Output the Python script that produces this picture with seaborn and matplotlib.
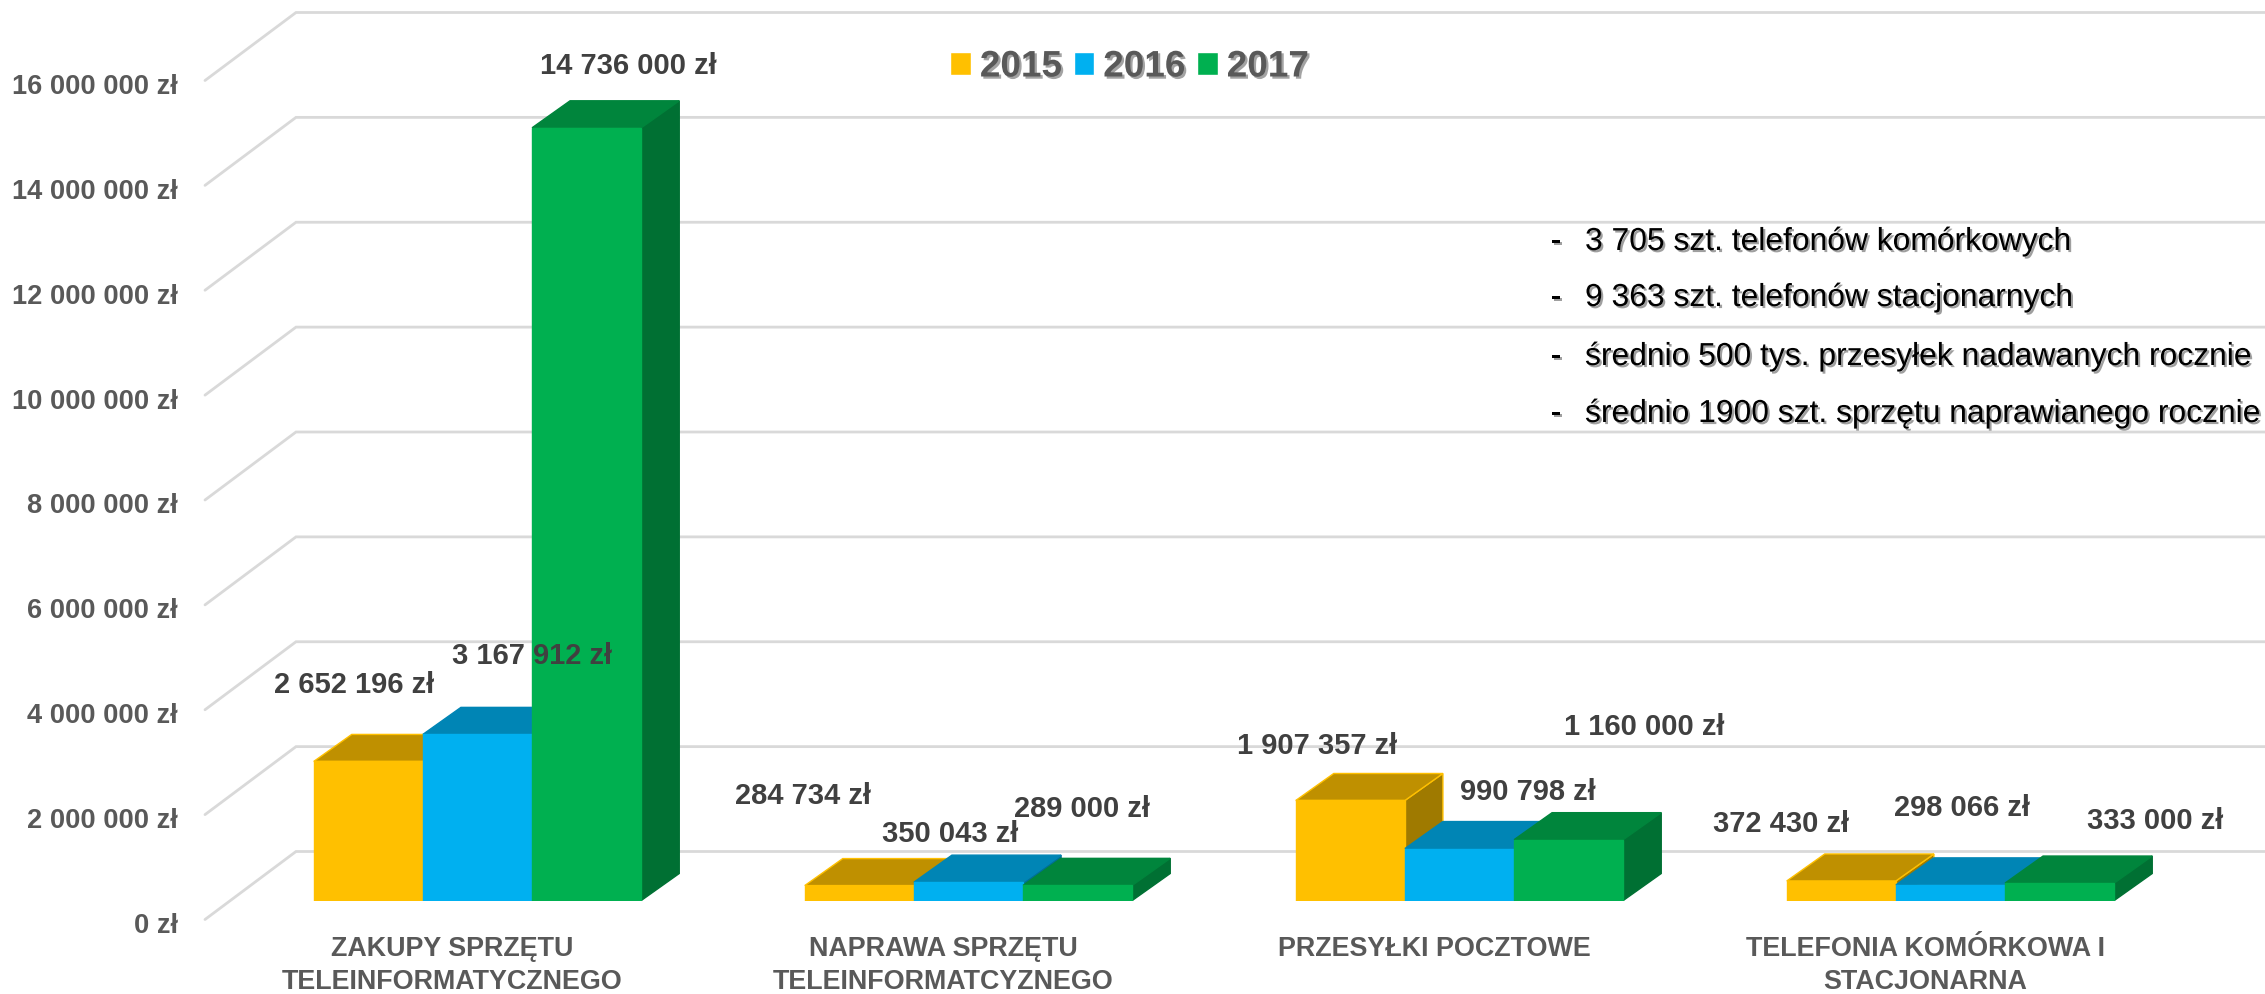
import matplotlib
matplotlib.use("Agg")
import matplotlib.pyplot as plt
import matplotlib.patheffects as pe
from matplotlib.patches import Polygon
from matplotlib.transforms import ScaledTranslation
import pandas as pd
import seaborn as sns

categories = ["ZAKUPY SPRZĘTU\nTELEINFORMATYCZNEGO", "NAPRAWA SPRZĘTU\nTELEINFORMATCYZNEGO",
              "PRZESYŁKI POCZTOWE", "TELEFONIA KOMÓRKOWA I\nSTACJONARNA"]
years = ["2015", "2016", "2017"]
values_2015 = [2652196, 284734, 1907357, 372430]
values_2016 = [3167912, 350043, 990798, 298066]
values_2017 = [14736000, 289000, 1160000, 333000]
y_ticks = [0, 2000000, 4000000, 6000000, 8000000, 10000000, 12000000, 14000000, 16000000]
notes = ["3 705 szt. telefonów komórkowych", "9 363 szt. telefonów stacjonarnych",
         "średnio 500 tys. przesyłek nadawanych rocznie", "średnio 1900 szt. sprzętu naprawianego rocznie"]

front_colors = ["#FFC000", "#00B0F0", "#00B050"]
top_colors = ["#BF9000", "#0085B5", "#00853C"]
side_colors = ["#9F7A00", "#006F96", "#007033"]

W, H = 2265, 995
sns.set_theme(style="white")
plt.rcParams["font.family"] = ["Liberation Sans", "DejaVu Sans"]

fig = plt.figure(figsize=(W / 100, H / 100), dpi=100)
L, R, B, T = 232, 2196, 901.5, 62.5
ax = fig.add_axes([L / W, 1 - B / H, (R - L) / W, (B - T) / H])
ax.patch.set_alpha(0)

df = pd.DataFrame({
    "category": categories * 3,
    "year": [y for y in years for _ in categories],
    "value": values_2015 + values_2016 + values_2017,
})
sns.barplot(data=df, x="category", y="value", hue="year", palette=front_colors, saturation=1,
            width=0.667, gap=0, ax=ax, errorbar=None, zorder=5)
ax.set_xlim(-0.5, 3.5)
ax.set_ylim(0, 16000000)
ax.set_xlabel("")
ax.set_ylabel("")
sns.despine(ax=ax, left=True, bottom=True)

xpx = (R - L) / 4
ypx = (B - T) / 16000000
to_dx = lambda p: p / xpx
to_dy = lambda p: p / ypx

# walls / gridlines in oblique projection
for v in y_ticks:
    xs = [-0.5 + to_dx(-27), -0.5 + to_dx(64), 3.5 + to_dx(70)]
    ys = [v + to_dy(-19), v + to_dy(49), v + to_dy(49)]
    ax.plot(xs, ys, color="#D9D9D9", lw=2.0, clip_on=False, zorder=1, solid_joinstyle="miter")

# side and top faces of each bar
depth_x, depth_y = to_dx(38), to_dy(27)
for h, cont in enumerate(ax.containers):
    z = 5 + h
    for bar in cont:
        bar.set_zorder(z)
        bar.set_edgecolor(front_colors[h])
        bar.set_linewidth(1)
        x0, x1, v = bar.get_x(), bar.get_x() + bar.get_width(), bar.get_height()
        side = [(x1, 0), (x1 + depth_x, depth_y), (x1 + depth_x, v + depth_y), (x1, v)]
        top = [(x0, v), (x0 + depth_x, v + depth_y), (x1 + depth_x, v + depth_y), (x1, v)]
        ax.add_patch(Polygon(side, fc=side_colors[h], ec=side_colors[h] if h else front_colors[h],
                             lw=1, clip_on=False, zorder=z - 0.5))
        ax.add_patch(Polygon(top, fc=top_colors[h], ec=top_colors[h] if h else front_colors[h],
                             lw=1, clip_on=False, zorder=z - 0.4))

# axis text
ax.set_yticks(y_ticks)
ax.set_yticklabels([f"{v:,}".replace(",", " ") + " zł" for v in y_ticks])
ax.tick_params(axis="y", length=0, pad=54 * 0.72, labelsize=19.6, labelcolor="#595959")
ax.tick_params(axis="x", length=0, pad=25, labelsize=19.4, labelcolor="#595959")
for t in ax.get_yticklabels():
    t.set_fontweight("bold")
    t.set_transform(t.get_transform() + ScaledTranslation(0, -21.5 / 100, fig.dpi_scale_trans))
for t in ax.get_xticklabels():
    t.set_fontweight("bold")
    t.set_linespacing(1.32)
    t.set_transform(t.get_transform() + ScaledTranslation(-25 / 100, 0, fig.dpi_scale_trans))

# value labels
label_px = [[(354, 685), (803, 796), (1317, 746), (1781, 824)],
            [(532, 656), (950, 834), (1528, 792), (1962, 808)],
            [(628, 66), (1082, 809), (1644, 727), (2155, 821)]]
for h, cont in enumerate(ax.containers):
    for bar, (px, py) in zip(cont, label_px[h]):
        txt = f"{int(round(bar.get_height())):,}".replace(",", " ") + " zł"
        ax.annotate(txt, xy=(bar.get_x() + bar.get_width() / 2, bar.get_height()), xycoords="data",
                    xytext=(px, H - py), textcoords="figure pixels", ha="center", va="center",
                    fontsize=21, fontweight="bold", color="#404040", zorder=20)

# legend
handles, labels = ax.get_legend_handles_labels()
leg = ax.legend(handles, labels, ncol=3, frameon=False, loc="center",
                bbox_to_anchor=(1129.5 / W, 1 - 68 / H), bbox_transform=fig.transFigure,
                prop={"weight": "bold", "size": 26.6}, labelcolor="#595959",
                handlelength=0.56, handleheight=0.56, handletextpad=0.24, columnspacing=0.32,
                borderpad=0, borderaxespad=0)
for t in leg.get_texts():
    t.set_path_effects([pe.withSimplePatchShadow(offset=(1.6, -1.6), shadow_rgbFace="#8c8c8c", alpha=0.8)])

# notes
note_y = [243, 299, 358, 415]
for s, py in zip(notes, note_y):
    for x, txt in ((1551, "-"), (1585, s)):
        fig.text(x / W, 1 - py / H, txt, ha="left", va="center", fontsize=22.9, color="#000000", zorder=20,
                 path_effects=[pe.withSimplePatchShadow(offset=(1.5, -1.5), shadow_rgbFace="#777777", alpha=0.7)])

fig.savefig("out.png", dpi=100, facecolor="white")
